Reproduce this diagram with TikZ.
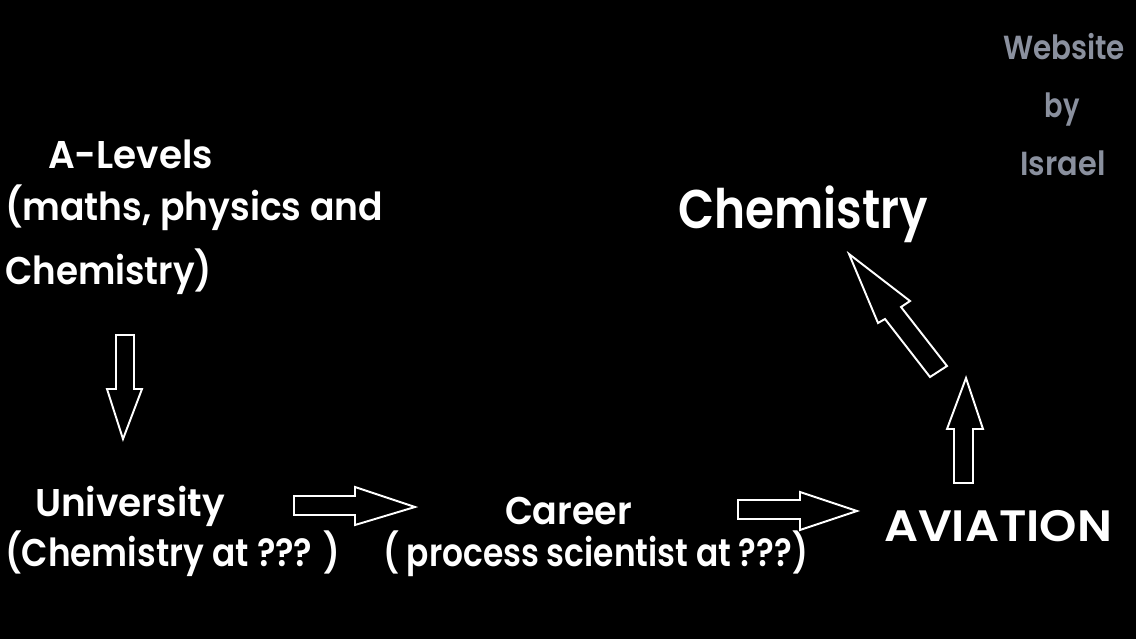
\documentclass[tikz,border=0pt]{standalone}
\usepackage{fontspec}
\setmainfont{Poppins}[BoldFont={Poppins SemiBold}]
\usepackage{graphicx}
\definecolor{greytxt}{HTML}{8A909E}
\newcommand\fitw[2]{\resizebox{#1}{\height}{#2}}
\begin{document}
\begin{tikzpicture}[x=0.02cm,y=-0.02cm,
  txt/.style={text=white,inner sep=0pt,anchor=base,font=\bfseries\fontsize{22}{26}\selectfont},
  avitxt/.style={txt,font=\bfseries\fontsize{25}{30}\selectfont},
  bigtxt/.style={txt,font=\bfseries\fontsize{31}{36}\selectfont},
  sig/.style={txt,text=greytxt,font=\bfseries\fontsize{19}{22}\selectfont},
  blockarrow/.style={draw=white,line width=1.1pt,line join=miter}]
\fill[black] (0,0) rectangle (1136,639);
\useasboundingbox (0,0) rectangle (1136,639);
% texts
\node[txt] (alev) at (130.5,168) {\fitw{3.30cm}{A-Levels}};
\node[txt] (alev2) at (194,220) {\fitw{7.56cm}{(maths, physics and}};
\node[txt] (alev3) at (108.5,284) {\fitw{4.14cm}{Chemistry)}};
\node[txt] (uni) at (130,516) {\fitw{3.80cm}{University}};
\node[txt] (uni2) at (172.5,566) {\fitw{6.70cm}{(Chemistry at ??? )}};
\node[txt] (car) at (568.5,524) {\fitw{2.54cm}{Career}};
\node[txt] (car2) at (595.5,566) {\fitw{8.50cm}{( process scientist at ???)}};
\node[avitxt] (avi) at (998,541) {\fitw{4.56cm}{AVIATION}};
\node[bigtxt] (chem) at (803,228) {\fitw{5.00cm}{Chemistry}};
\node[sig] (web) at (1064,59) {\fitw{2.44cm}{Website}};
\node[sig] (by) at (1062,117) {\fitw{0.70cm}{by}};
\node[sig] (isr) at (1063,175) {\fitw{1.70cm}{Israel}};
% block arrows
\draw[blockarrow] (116,335) -- (134,335) -- (134,389) -- (142,389) -- (123,439) -- (107,389) -- (116,389) -- cycle;
\draw[blockarrow] (294,496) -- (355,496) -- (355,487) -- (415,507) -- (355,525) -- (355,515) -- (294,515) -- cycle;
\draw[blockarrow] (738,500) -- (800,500) -- (800,492) -- (857,511) -- (800,530) -- (800,519) -- (738,519) -- cycle;
\draw[blockarrow] (954,483) -- (954,429) -- (947,429) -- (966,378) -- (983,429) -- (973,429) -- (973,483) -- cycle;
\draw[blockarrow] (849,254) -- (910,301) -- (901,307) -- (947,366) -- (930,377) -- (885,319) -- (878,323) -- cycle;
\end{tikzpicture}
\end{document}
